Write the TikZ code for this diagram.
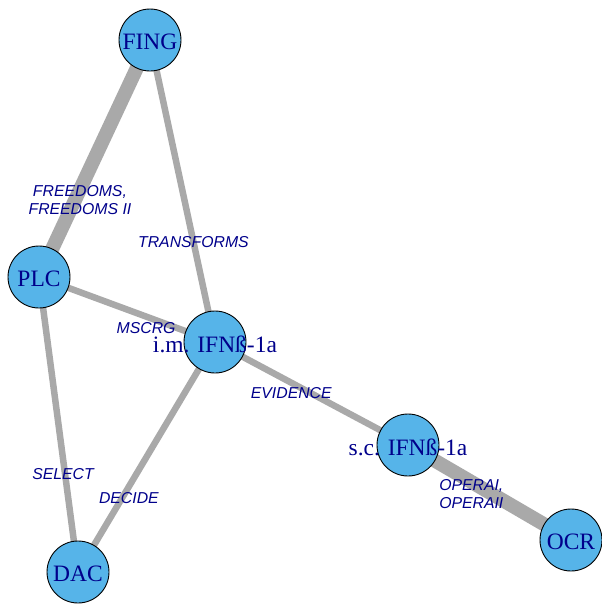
\documentclass[tikz,border=0pt]{standalone}
\usepackage{fontspec}
\setmainfont{Liberation Serif}
\newfontfamily\edgefont{Liberation Sans}
\usepackage{xcolor}

\pgfdeclarelayer{background}
\pgfsetlayers{background,main}

\definecolor{vfill}{HTML}{56B4E9}
\definecolor{vtext}{HTML}{00008B}
\definecolor{egray}{HTML}{A9A9A9}

\tikzset{
  name tag/.style={text=vtext,font=\fontsize{23.5}{26}\selectfont,inner sep=0pt,yshift=-2pt},
  trial/.style={circle,draw=black,line width=0.9pt,fill=vfill,
    minimum size=62pt,inner sep=0pt,label={[name tag]center:#1}},
  study/.style={text=vtext,font=\edgefont\itshape\fontsize{15.8}{18.5}\selectfont,
    align=center,inner sep=0pt},
  link/.style={draw=egray,line width=#1pt},
  link/.default=6.5
}

\begin{document}
\begin{tikzpicture}[x=1pt,y=-1pt]
    \useasboundingbox (0,0) rectangle (602,606);
    % treatments
    \node[trial=FING]         (fing) at (150,40)  {};
    \node[trial=PLC]          (plc)  at (39,277)  {};
    \node[trial=i.m. IFNß-1a] (im)   at (215,342) {};
    \node[trial=s.c. IFNß-1a] (sc)   at (408,445) {};
    \node[trial=OCR]          (ocr)  at (571,540) {};
    \node[trial=DAC]          (dac)  at (78,572)  {};
    % comparisons, width by number of studies
    \begin{pgfonlayer}{background}
    \draw (fing.center)
        edge[link=14] node[study,pos=.667,shift={(4,2)}] {FREEDOMS,\\FREEDOMS II} (plc.center);
    \draw (fing.center)
        edge[link] node[study,pos=.669] {TRANSFORMS} (im.center);
    \draw (plc.center)
        edge[link] node[study,pos=.631,shift={(-4,10)}] {MSCRG} (im.center);
    \draw (plc.center)
        edge[link] node[study,pos=.667,shift={(-2,0)}] {SELECT} (dac.center);
    \draw (im.center)
        edge[link] node[study,pos=.665,shift={(5,3)}] {DECIDE} (dac.center);
    \draw (im.center)
        edge[link] node[study,pos=.416,shift={(-4,8)}] {EVIDENCE} (sc.center);
    \draw (sc.center)
        edge[link=14] node[study,pos=.419,shift={(-5,9)}] {OPERAI,\\OPERAII} (ocr.center);
    \end{pgfonlayer}
\end{tikzpicture}
\end{document}
